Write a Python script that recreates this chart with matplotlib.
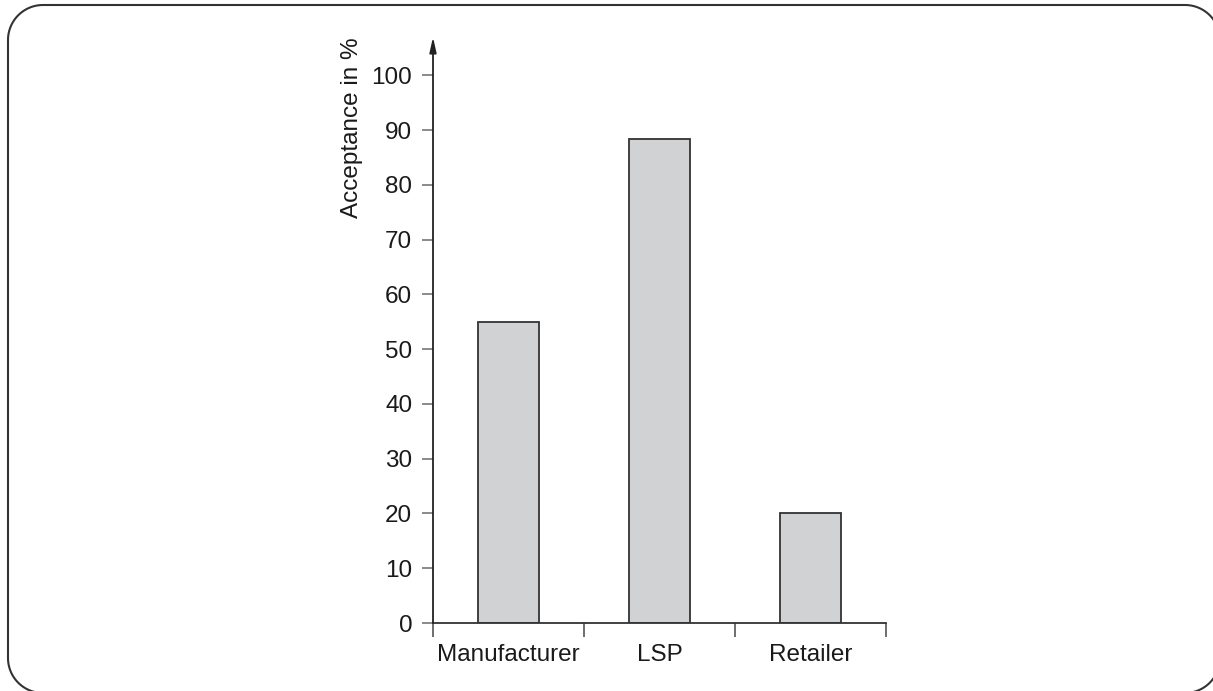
import matplotlib
matplotlib.use("Agg")
import numpy as np
import matplotlib.pyplot as plt
from matplotlib.lines import Line2D
from matplotlib.transforms import IdentityTransform

categories = ["Manufacturer", "LSP", "Retailer"]
acceptance = [55, 88.4, 20]
y_ticks = [0, 10, 20, 30, 40, 50, 60, 70, 80, 90, 100]

plt.rcParams["font.family"] = ["Liberation Sans", "DejaVu Sans"]

W, H = 1213, 691
fig = plt.figure(figsize=(W / 100, H / 100), dpi=100)
ax = fig.add_axes([433 / W, (H - 623) / H, 453 / W, 586 / H])

centers = [i + 0.5 for i in range(len(categories))]
ax.bar(centers, acceptance, width=0.4, color="#d1d2d4", edgecolor="#333333", linewidth=1.3)

ax.set_xlim(0, len(categories))
ax.set_ylim(0, 107)

# y axis drawn as an arrow, x axis as plain spine
for side in ("top", "right", "left"):
    ax.spines[side].set_visible(False)
ax.spines["bottom"].set_color("#333333")
ax.spines["bottom"].set_linewidth(1.3)
ax.annotate("", xy=(0, 1), xycoords="axes fraction", xytext=(0, 0),
            textcoords="axes fraction",
            arrowprops=dict(arrowstyle="-|>,head_length=0.9,head_width=0.2",
                            color="#222222", lw=1.3, shrinkA=0, shrinkB=0))

ax.set_yticks(y_ticks)
ax.tick_params(axis="y", direction="out", length=8, width=1.2, color="#777777",
               labelsize=17.5, pad=7, labelcolor="#1a1a1a")
ax.set_xticks(range(len(categories) + 1))
ax.set_xticklabels([])
ax.set_xticks(centers, minor=True)
ax.set_xticklabels(categories, minor=True)
ax.tick_params(axis="x", which="major", direction="out", length=10, width=1.2,
               color="#555555")
ax.tick_params(axis="x", which="minor", length=0, labelsize=17.5, pad=15,
               labelcolor="#1a1a1a")

ax.text(-0.179, 0.846, "Acceptance in %", transform=ax.transAxes, rotation=90,
        ha="center", va="center", fontsize=17.5, color="#1a1a1a")


def rounded_rect(x0, y0, x1, y1, r, n=30):
    """Outline of a rounded rectangle as a polyline (display pixels)."""
    pts = []
    corners = [(x1 - r, y1 - r, 0), (x0 + r, y1 - r, 90),
               (x0 + r, y0 + r, 180), (x1 - r, y0 + r, 270)]
    for cx, cy, a0 in corners:
        t = np.radians(np.linspace(a0, a0 + 90, n))
        pts.append(np.column_stack([cx + r * np.cos(t), cy + r * np.sin(t)]))
    pts = np.vstack(pts + [pts[0][:1]])
    return pts[:, 0], pts[:, 1]


# frame runs a little past the right and bottom edges of the picture
fx, fy = rounded_rect(8, -2, 1220, H - 5, 35)
fig.add_artist(Line2D(fx, fy, transform=IdentityTransform(),
                      color="#333333", linewidth=1.5))

fig.savefig("out.png", dpi=100)
